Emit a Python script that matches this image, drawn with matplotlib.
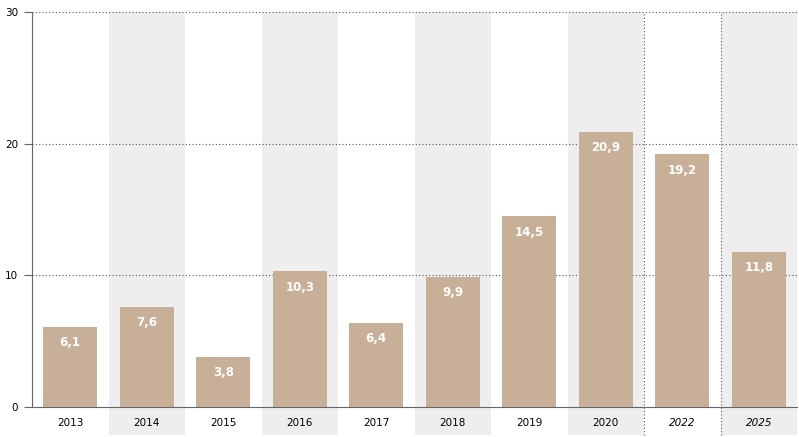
import numpy as np
import matplotlib.pyplot as plt

# data
years = ['2013', '2014', '2015', '2016', '2017', '2018', '2019', '2020', '2022', '2025']
values = [6.1, 7.6, 3.8, 10.3, 6.4, 9.9, 14.5, 20.9, 19.2, 11.8]
italic_years = ['2022', '2025']
yticks = [0, 10, 20, 30]

bar_color = '#c8af97'
band_color = '#eeeeee'

fig = plt.figure(figsize=(7.99, 4.37), dpi=100)
ax = fig.add_axes([32/799, 30/437, 765/799, 395/437])

x = np.arange(len(years))
ax.set_xlim(-0.5, len(years) - 0.5)
ax.set_ylim(0, 30)

# alternating background bands, reaching below the axis
below = -28/395
for i in x:
    if i % 2 == 1:
        ax.axvspan(i - 0.5, i + 0.5, ymin=below, ymax=1, color=band_color,
                   zorder=0, clip_on=False, lw=0)

# dotted separators before the forecast years
for i in [7.5, 8.5]:
    ax.axvline(i, ymin=below, ymax=1, color='#555555', ls=(0, (1, 2)), lw=0.8,
               clip_on=False, zorder=1)

# dotted gridlines
for v in yticks[1:]:
    ax.axhline(v, color='#555555', ls=(0, (1, 2)), lw=0.8, zorder=1)

ax.bar(x, values, width=0.7, color=bar_color, zorder=2)

for xi, v in zip(x, values):
    ax.annotate(f'{v:.1f}'.replace('.', ','), (xi, v), xytext=(0, -16),
                textcoords='offset pixels', ha='center', va='center',
                color='white', fontsize=8.5, fontweight='bold', zorder=3)

for s in ['top', 'right']:
    ax.spines[s].set_visible(False)
ax.spines['left'].set_color('#666666')
ax.spines['bottom'].set_color('#666666')
ax.set_facecolor('none')

ax.set_yticks(yticks)
ax.set_yticklabels([str(v) for v in yticks], fontsize=7.5)
ax.tick_params(axis='y', length=6, color='#666666', pad=4)
ax.set_xticks(x)
ax.set_xticklabels(years, fontsize=7.5)
ax.tick_params(axis='x', length=0, pad=8)
for lbl in ax.get_xticklabels():
    if lbl.get_text() in italic_years:
        lbl.set_style('italic')

fig.savefig('out.png', dpi=100)
